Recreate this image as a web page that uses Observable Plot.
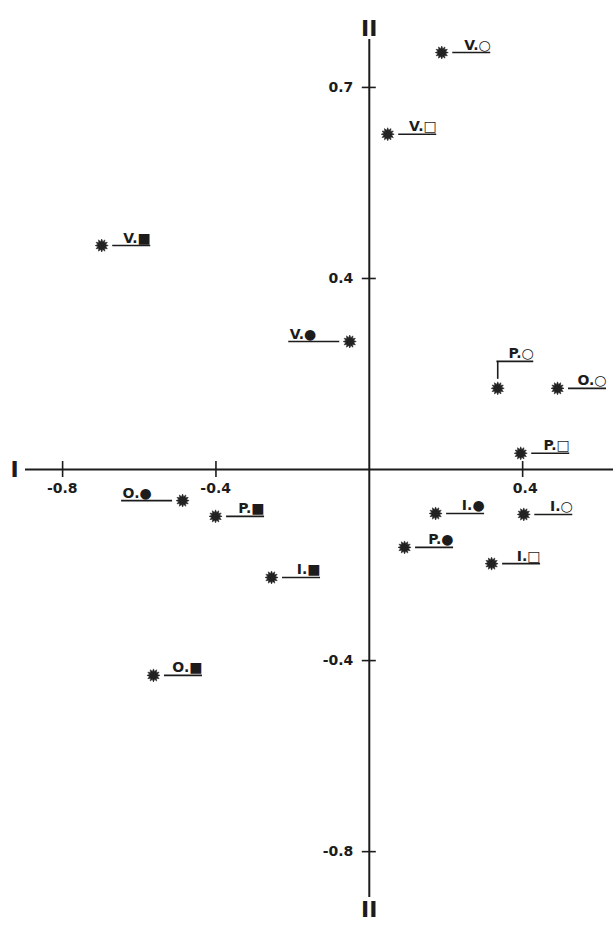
<!DOCTYPE html>
<html>
<head>
<meta charset="utf-8">
<script src="https://cdn.jsdelivr.net/npm/d3@7"></script>
<script src="https://cdn.jsdelivr.net/npm/@observablehq/plot@0.6"></script>
<style>
  html, body { margin: 0; padding: 0; background: #fff; overflow: hidden; }
  #chart svg { display: block; }
  #chart text.lbl { letter-spacing: 0.8px; }
</style>
</head>
<body>
<div id="chart"></div>
<script>
// ---- data ----
const labels    = ["V.○", "V.□", "V.■", "V.●", "P.○", "O.○", "P.□", "O.●", "P.■", "I.■", "I.●", "I.○", "P.●", "I.□", "O.■"];
const dim1      = [0.189, 0.048, -0.698, -0.051, 0.335, 0.491, 0.395, -0.487, -0.401, -0.255, 0.173, 0.403, 0.092, 0.319, -0.563];
const dim2      = [0.873, 0.702, 0.469, 0.268, 0.170, 0.170, 0.034, -0.065, -0.098, -0.226, -0.092, -0.094, -0.163, -0.197, -0.431];
const labelSide = ["right", "right", "right", "left", "above", "right", "right", "left", "right", "right", "right", "right", "right", "right", "right"];

const xTickValues = [-0.8, -0.4, 0.4];
const xTickLabels = ["-0.8", "-0.4", "0.4"];
const yTickValues = [0.8, 0.4, -0.4, -0.8];
const yTickLabels = ["0.7", "0.4", "-0.4", "-0.8"];
const axisNameX = ["I"];
const axisNameY = ["II"];
const xDomain = [-0.962, 0.637];
const yDomain = [-0.963, 0.982];

// ---- table for Plot ----
const pts = labels.map((label, i) => ({label, x: dim1[i], y: dim2[i], side: labelSide[i]}));

const ink = "#1c1c1c";
const font = "DejaVu Sans, Verdana, sans-serif";

// asterisk-like burst symbol
const burst = {
  draw(context, size) {
    const R = Math.sqrt(size / Math.PI);
    const n = 12, r = R * 0.62;
    for (let i = 0; i < 2 * n; i++) {
      const a = i * Math.PI / n - Math.PI / 2;
      const rr = i % 2 ? r : R;
      const px = rr * Math.cos(a), py = rr * Math.sin(a);
      if (i === 0) context.moveTo(px, py); else context.lineTo(px, py);
    }
    context.closePath();
  }
};

const isRight = d => d.side === "right";
const isLeft = d => d.side === "left";
const isAbove = d => d.side === "above";

const labelText = {fontFamily: font, fontSize: 14, fontWeight: "bold", fill: ink, lineAnchor: "bottom", className: "lbl"};

const chart = Plot.plot({
  width: 613,
  height: 929,
  margin: 0,
  x: {domain: xDomain, axis: null},
  y: {domain: yDomain, axis: null},
  style: {background: "#fff", color: ink, fontFamily: font},
  marks: [
    // axes through the origin
    Plot.ruleY([0], {insetLeft: 25, stroke: ink, strokeWidth: 2}),
    Plot.ruleX([0], {insetTop: 39, insetBottom: 32, stroke: ink, strokeWidth: 2}),
    // tick marks crossing the axes
    Plot.ruleX(xTickValues, {x: d => d, y1: 0, y2: 0, insetTop: -8, insetBottom: -8, stroke: ink, strokeWidth: 1.6}),
    Plot.ruleY(yTickValues, {y: d => d, x1: 0, x2: 0, insetLeft: -7, insetRight: -7, stroke: ink, strokeWidth: 1.6}),
    // tick labels
    Plot.text(xTickValues, {x: d => d, y: 0, text: (d, i) => xTickLabels[i], textAnchor: "end", dx: 15, dy: 19,
      fontSize: 14, fontWeight: "bold", fontFamily: font, fill: ink, className: "lbl"}),
    Plot.text(yTickValues, {y: d => d, x: 0, text: (d, i) => yTickLabels[i], textAnchor: "end", dx: -16, dy: 0,
      fontSize: 14, fontWeight: "bold", fontFamily: font, fill: ink, className: "lbl"}),
    // axis names
    Plot.text(axisNameX, {frameAnchor: "left", y: 0, text: d => d, dx: 14, textAnchor: "middle",
      fontSize: 22, fontWeight: "bold", fontFamily: font, fill: ink}),
    Plot.text(axisNameY, {frameAnchor: "top", x: 0, text: d => d, dy: 20, textAnchor: "middle",
      fontSize: 22, fontWeight: "bold", fontFamily: font, fill: ink}),
    Plot.text(axisNameY, {frameAnchor: "bottom", x: 0, text: d => d, dy: -13, textAnchor: "middle",
      fontSize: 22, fontWeight: "bold", fontFamily: font, fill: ink}),

    // label underlines / leaders
    Plot.ruleY(pts, {filter: isRight, y: "y", x1: "x", x2: "x", insetLeft: 11, insetRight: -49, stroke: ink, strokeWidth: 1.6}),
    Plot.ruleY(pts, {filter: isLeft, y: "y", x1: "x", x2: "x", insetLeft: -61, insetRight: 10, stroke: ink, strokeWidth: 1.6}),
    Plot.ruleX(pts, {filter: isAbove, x: "x", y1: "y", y2: "y", insetTop: -27, insetBottom: 9, stroke: ink, strokeWidth: 1.6}),
    Plot.ruleY(pts, {filter: isAbove, y: "y", x1: "x", x2: "x", dy: -27, insetLeft: -0.8, insetRight: -36, stroke: ink, strokeWidth: 1.6}),

    // labels
    Plot.text(pts, {filter: isRight, x: "x", y: "y", text: "label", textAnchor: "end", dx: 49, dy: -3, ...labelText}),
    Plot.text(pts, {filter: isLeft, x: "x", y: "y", text: "label", textAnchor: "start", dx: -60, dy: -3, ...labelText}),
    Plot.text(pts, {filter: isAbove, x: "x", y: "y", text: "label", textAnchor: "end", dx: 36, dy: -30, ...labelText}),

    // points
    Plot.dot(pts, {x: "x", y: "y", symbol: burst, r: 6.5, fill: "#222", stroke: "#222", strokeWidth: 0.6})
  ]
});

document.getElementById("chart").append(chart);
</script>
</body>
</html>
